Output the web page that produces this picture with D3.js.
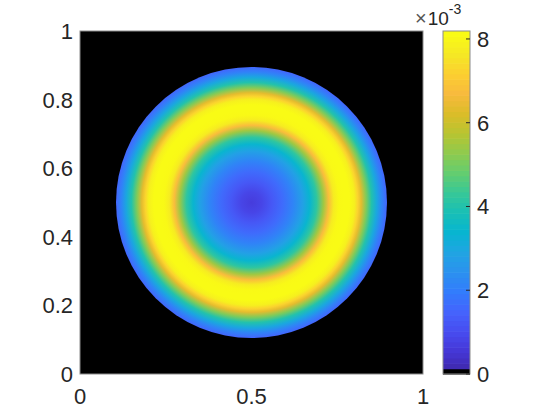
<!DOCTYPE html>
<html>
<head>
<meta charset="utf-8">
<script src="https://cdn.jsdelivr.net/npm/d3@7"></script>
<style>
body { margin: 0; background: #fff; }
text { font-family: "Liberation Sans", Arial, sans-serif; fill: #262626; }
</style>
</head>
<body>
<div class="container"></div>
<script>
const wd = 560
const ht = 420

// radial profile of the field (value in units of 1e-3)
const radii  = [0, 0.03, 0.06, 0.09, 0.12, 0.15, 0.17, 0.19, 0.21, 0.225, 0.24, 0.255, 0.27, 0.285, 0.30, 0.31, 0.32, 0.335, 0.35, 0.365, 0.38, 0.395]
const values = [0.6, 0.8, 1.2, 1.6, 2.1, 2.8, 3.4, 4.2, 5.5, 6.8, 7.8, 8.15, 8.19, 8.19, 7.9, 7.3, 6.4, 5.1, 4.0, 3.0, 2.1, 1.5]
const centre = [0.5, 0.5]

const xTicks = [0, 0.5, 1]
const yTicks = [0, 0.2, 0.4, 0.6, 0.8, 1]
const cTicks = [0, 2, 4, 6, 8]
const cMax = 8.19

// parula anchors (every 4th row of parula(64))
const parulaAnchors = [
  [0.2422, 0.1504, 0.6603], [0.2706, 0.2147, 0.8364], [0.2813, 0.3006, 0.9414],
  [0.2699, 0.3892, 0.9906], [0.1963, 0.4847, 0.9892], [0.1687, 0.5703, 0.9359],
  [0.1248, 0.6459, 0.8883], [0.0297, 0.7082, 0.8163], [0.0964, 0.7500, 0.7120],
  [0.2161, 0.7843, 0.5923], [0.3909, 0.8029, 0.4354], [0.5616, 0.7942, 0.3045],
  [0.7242, 0.7698, 0.1910], [0.8634, 0.7406, 0.1596], [0.9728, 0.7298, 0.2394],
  [0.9892, 0.8136, 0.1885], [0.9597, 0.9135, 0.1423], [0.9769, 0.9839, 0.0805]
]
const parula = d3.piecewise(d3.interpolateRgb,
  parulaAnchors.map(c => d3.rgb(c[0]*255, c[1]*255, c[2]*255)))

// 64 colour map, first entry black
const cmap = d3.range(64).map(i => i == 0 ? "#000000" : parula(i/63))
const colour = d3.scaleQuantize().domain([0, cMax]).range(cmap)
const smooth = v => parula(Math.max(0, Math.min(1, v/cMax)))

const svg = d3.select(".container")
  .append("svg")
  .attr("width", wd)
  .attr("height", ht)

const x = d3.scaleLinear().domain([0, 1]).range([80, 423])
const y = d3.scaleLinear().domain([0, 1]).range([374, 31])

// background (value 0 -> black)
svg.append("rect")
  .attr("x", x(0)).attr("y", y(1))
  .attr("width", x(1) - x(0)).attr("height", y(0) - y(1))
  .attr("fill", colour(0))

const rMax = d3.max(radii)
const grad = svg.append("defs").append("radialGradient")
  .attr("id", "field")
  .attr("gradientUnits", "userSpaceOnUse")
  .attr("cx", x(centre[0])).attr("cy", y(centre[1]))
  .attr("r", x(rMax) - x(0))

grad.selectAll("stop")
  .data(radii)
  .enter()
  .append("stop")
  .attr("offset", d => d/rMax)
  .attr("stop-color", (d, i) => smooth(values[i]))

svg.append("circle")
  .attr("cx", x(centre[0])).attr("cy", y(centre[1]))
  .attr("r", x(rMax) - x(0))
  .attr("fill", "url(#field)")

// axes box
const axCol = "#8c8c8c"
svg.append("rect")
  .attr("x", x(0)).attr("y", y(1))
  .attr("width", x(1) - x(0)).attr("height", y(0) - y(1))
  .attr("fill", "none").attr("stroke", axCol).attr("stroke-width", 1)

svg.selectAll(".xt")
  .data(xTicks)
  .enter()
  .append("text")
  .attr("x", d => x(d)).attr("y", 404)
  .attr("text-anchor", "middle")
  .style("font-size", "22px")
  .text(d => d3.format("~g")(d))

svg.selectAll(".yt")
  .data(yTicks)
  .enter()
  .append("text")
  .attr("x", 73).attr("y", d => y(d) + 8)
  .attr("text-anchor", "end")
  .style("font-size", "22px")
  .text(d => d3.format("~g")(d))

// colorbar
const cb = d3.scaleLinear().domain([0, cMax]).range([374, 31])
const cbX = 443, cbW = 27
const step = cMax/64

svg.selectAll(".cbr")
  .data(cmap)
  .enter()
  .append("rect")
  .attr("x", cbX)
  .attr("y", (d, i) => cb((i+1)*step))
  .attr("width", cbW)
  .attr("height", (d, i) => cb(i*step) - cb((i+1)*step) + 0.6)
  .attr("fill", d => d)

svg.append("rect")
  .attr("x", cbX).attr("y", cb(cMax))
  .attr("width", cbW).attr("height", cb(0) - cb(cMax))
  .attr("fill", "none").attr("stroke", axCol).attr("stroke-width", 1)

svg.selectAll(".cbt")
  .data(cTicks)
  .enter()
  .append("line")
  .attr("x1", cbX + cbW - 4).attr("x2", cbX + cbW)
  .attr("y1", d => cb(d)).attr("y2", d => cb(d))
  .attr("stroke", "#262626")

svg.selectAll(".cbl")
  .data(cTicks)
  .enter()
  .append("text")
  .attr("x", 477).attr("y", d => cb(d) + 8)
  .style("font-size", "22px")
  .text(d => d)

const ex = svg.append("text").attr("x", 415).attr("y", 25)
ex.append("tspan").text("\u00d7").style("font-size", "20px").style("fill", "#555")
ex.append("tspan").text("10").attr("dx", 1).style("font-size", "19px")
ex.append("tspan").text("-3").attr("dy", -11).style("font-size", "14px")
</script>
</body>
</html>
